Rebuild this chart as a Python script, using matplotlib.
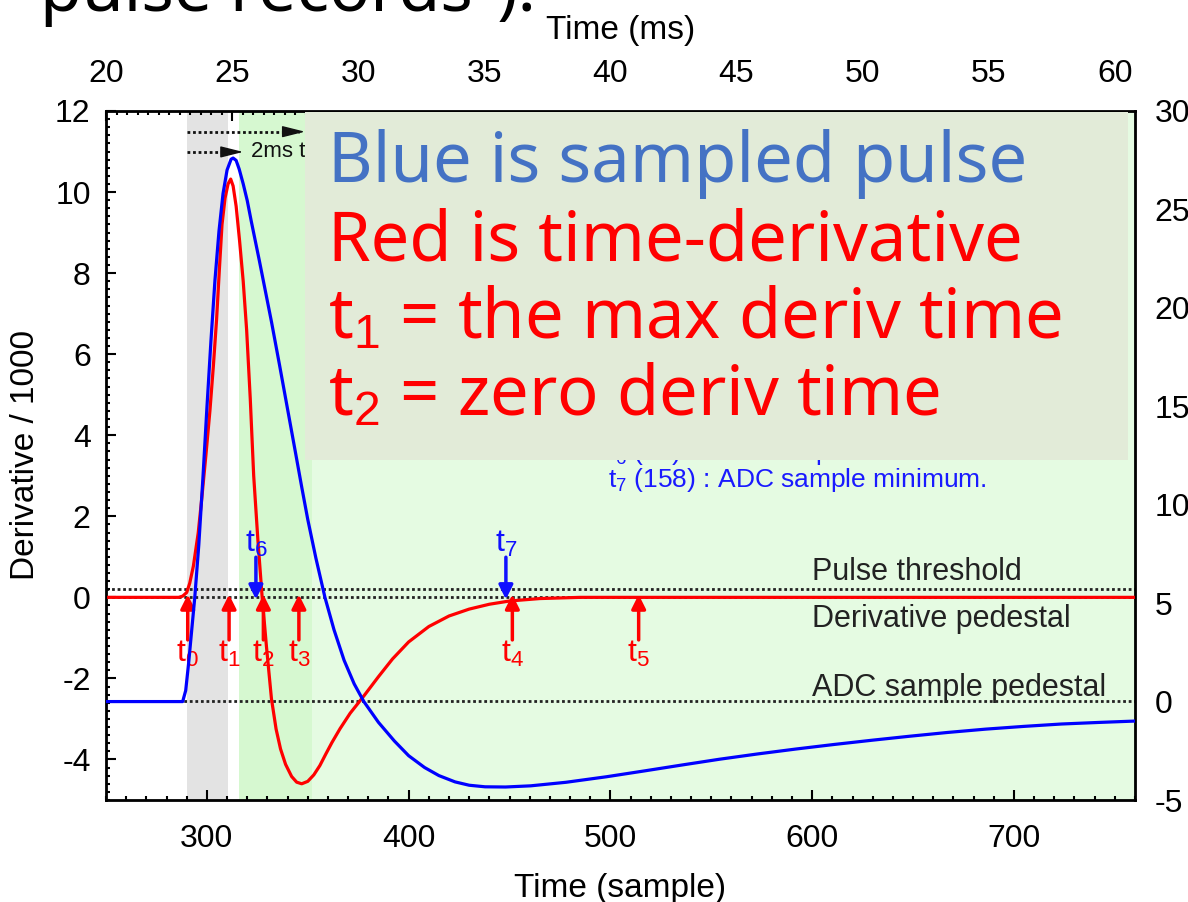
import matplotlib
matplotlib.use('Agg')
import matplotlib.pyplot as plt
from matplotlib.patches import Rectangle
from matplotlib.ticker import MultipleLocator, AutoMinorLocator

plt.rcParams['font.family'] = ['Liberation Sans', 'DejaVu Sans']
plt.rcParams['mathtext.fontset'] = 'custom'
plt.rcParams['mathtext.rm'] = 'Liberation Sans'
plt.rcParams['mathtext.it'] = 'Liberation Sans:italic'
plt.rcParams['axes.unicode_minus'] = False

# 微分波形 (Derivative / 1000), 横軸はサンプル番号
deriv_sample = [250, 286, 288, 290, 291.5, 293.3, 295.7, 297.4, 299.5, 301.5, 303.2, 304.8,
                306.2, 307.5, 309, 310.5, 311.8, 313, 314.5, 316.2, 318, 319.7, 321.5, 323.2,
                325.3, 327.4, 329.5, 332, 334.3, 336.5, 339, 342, 344.5, 347, 350, 353,
                356, 359, 362, 366, 371, 378, 385, 392, 400, 410, 420, 430, 440, 450, 465,
                485, 600, 760]
deriv = [0, 0, 0.03, 0.12, 0.35, 0.77, 1.59, 2.41, 3.5, 4.6, 5.7, 6.85,
         8.1, 9.2, 9.85, 10.2, 10.32, 10.15, 9.65, 8.8, 7.8, 6.6, 4.9, 3.0,
         1.4, 0, -1.2, -2.5, -3.25, -3.74, -4.12, -4.42, -4.56, -4.6, -4.54, -4.38,
         -4.15, -3.86, -3.58, -3.24, -2.86, -2.42, -1.96, -1.52, -1.1, -0.72, -0.46, -0.29, -0.17, -0.09, -0.03,
         0, 0, 0]

# サンプリングされたパルス (右軸)
pulse_sample = [250, 288, 289.5, 291, 292.5, 294, 296, 298, 300, 302, 304, 306, 308, 310, 312,
                313, 314.5, 316, 318, 320, 322, 326, 329, 332, 336, 340, 344, 347, 350, 354,
                358.5, 363, 368, 373, 377.8, 385, 392.9, 400, 407.9, 415, 423, 430, 437.9, 448, 460.5,
                478, 498, 517, 535.6, 554, 573, 592, 610.8, 630, 648.4, 667, 686, 705, 723.5,
                742, 760]
pulse = [0, 0, 0.56, 2.0, 3.65, 5.29, 7.97, 11.3, 14.9, 18.3, 21.4, 23.9, 25.8, 27.0, 27.55,
         27.61, 27.49, 27.05, 26.3, 25.45, 24.4, 22.4, 20.85, 19.3, 17.1, 14.85, 12.6, 10.9, 9.25, 7.3,
         5.3, 3.65, 2.1, 0.9, 0.0, -1.05, -2.0, -2.75, -3.35, -3.76, -4.08, -4.25, -4.33, -4.34, -4.28,
         -4.1, -3.82, -3.52, -3.22, -2.93, -2.66, -2.41, -2.18, -1.96, -1.76, -1.57, -1.40, -1.26, -1.14,
         -1.06, -0.99]

# 時刻マーカー
red_marks = [290.5, 311, 328, 345.6, 451.4, 514]
red_names = ['t$_0$', 't$_1$', 't$_2$', 't$_3$', 't$_4$', 't$_5$']
blue_marks = [324.3, 448.2]
blue_names = ['t$_6$', 't$_7$']

# 水平基準線
threshold = 0.2
deriv_pedestal = 0.0
adc_pedestal = -2.56

fig = plt.figure(figsize=(11.88, 9.02), dpi=100)
ax = fig.add_axes([106 / 1188, 102 / 902, 1029 / 1188, 689 / 902])
ax.set_xlim(250, 760)
ax.set_ylim(-5, 12)

# 背景の帯
ax.axvspan(290, 310.5, color='#e3e3e3', lw=0, zorder=0)
ax.axvspan(316, 352, color='#d6f8d0', lw=0, zorder=0)
ax.axvspan(352, 760, color='#e5fbe2', lw=0, zorder=0)

for yv in [threshold, deriv_pedestal, adc_pedestal]:
    ax.axhline(yv, color='#222222', ls=(0, (1, 1)), lw=2, zorder=1)

ax.plot(deriv_sample, deriv, color='#ff0000', lw=2.3, zorder=3)

# 矢印とラベル
for s, name in zip(red_marks, red_names):
    ax.annotate('', xy=(s, 0.07), xytext=(s, -1.05),
                arrowprops=dict(arrowstyle='-|>,head_length=0.6,head_width=0.3', color='#ff0000',
                                lw=2.5, shrinkA=0, shrinkB=0, mutation_scale=14), zorder=4)
    ax.text(s, -1.6, name, color='#ff0000', fontsize=23, ha='center', va='baseline', zorder=4)
for s, name in zip(blue_marks, blue_names):
    ax.annotate('', xy=(s, -0.05), xytext=(s, 0.99),
                arrowprops=dict(arrowstyle='-|>,head_length=0.6,head_width=0.3', color='#1010ff',
                                lw=2.5, shrinkA=0, shrinkB=0, mutation_scale=14), zorder=4)
    ax.text(s, 1.11, name, color='#1010ff', fontsize=23, ha='center', va='baseline', zorder=4)

ax.text(600, 0.44, 'Pulse threshold', fontsize=22, color='#222222', va='baseline')
ax.text(600, -0.74, 'Derivative pedestal', fontsize=22, color='#222222', va='baseline')
ax.text(600, -2.44, 'ADC sample pedestal', fontsize=22, color='#222222', va='baseline')
ax.text(499, 3.4, 't$_6$ (81) : ADC sample maximum.', fontsize=19, color='#1a1aff', va='baseline')
ax.text(499, 2.73, 't$_7$ (158) : ADC sample minimum.', fontsize=19, color='#1a1aff', va='baseline')

# 上部の点線矢印 (点線 + 実線の矢じり)
for x_end, yv in [(348.6, 11.49), (318, 10.99)]:
    ax.plot([290, x_end - 3], [yv, yv], color='#111111', lw=2, ls=(0, (1, 1)))
    ax.annotate('', xy=(x_end, yv), xytext=(x_end - 4, yv),
                arrowprops=dict(arrowstyle='-|>,head_length=1.0,head_width=0.25', color='#111111',
                                lw=1, shrinkA=0, shrinkB=0, mutation_scale=14))
ax.text(322, 10.99, '2ms time window', fontsize=16, va='center', color='#111111')

# 軸の体裁
ax.set_xlabel('Time (sample)', fontsize=24, labelpad=14)
ax.set_ylabel('Derivative / 1000', fontsize=24, labelpad=10)
ax.xaxis.set_major_locator(MultipleLocator(100))
ax.xaxis.set_minor_locator(MultipleLocator(10))
ax.yaxis.set_major_locator(MultipleLocator(2))
ax.yaxis.set_minor_locator(AutoMinorLocator(10))
ax.tick_params(which='both', direction='in', labelsize=23, width=1.5, top=False, right=False)
ax.tick_params(which='major', length=7)
ax.tick_params(which='minor', length=3)
ax.tick_params(axis='x', pad=17)
ax.tick_params(axis='y', pad=11)
for sp in ax.spines.values():
    sp.set_linewidth(2)

ax2 = ax.twinx()
ax2.set_ylim(-5, 30)
ax2.plot(pulse_sample, pulse, color='#0000ff', lw=2.3, zorder=3)
ax2.yaxis.set_major_locator(MultipleLocator(5))
ax2.tick_params(axis='y', length=0, labelsize=23, pad=14)

top = ax.secondary_xaxis('top', functions=(lambda s: s * 0.08, lambda m: m / 0.08))
top.xaxis.set_major_locator(MultipleLocator(5))
top.xaxis.set_minor_locator(AutoMinorLocator(12))
top.tick_params(which='both', direction='in', labelsize=23, width=1.5, pad=16)
top.tick_params(which='major', length=7)
top.tick_params(which='minor', length=3)
top.set_xlabel('Time (ms)', fontsize=24, labelpad=14)

# スライドの重ね書き
box = Rectangle((305 / 1188, (902 - 460) / 902), (1128 - 305) / 1188, (460 - 112) / 902,
                transform=fig.transFigure, facecolor='#e2ebd8', edgecolor='none', zorder=10)
fig.add_artist(box)
box_font = ['Noto Sans', 'DejaVu Sans']
fig.text(328 / 1188, 1 - 182 / 902, 'Blue is sampled pulse', color='#4472c4', fontsize=49.5,
         family=box_font, va='baseline', zorder=11)
fig.text(328 / 1188, 1 - 260 / 902, 'Red is time-derivative', color='#ff0000', fontsize=49.5,
         family=box_font, va='baseline', zorder=11)
fig.text(328 / 1188, 1 - 338 / 902, 't$_1$ = the max deriv time', color='#ff0000', fontsize=49.5,
         family=box_font, va='baseline', zorder=11)
fig.text(328 / 1188, 1 - 415 / 902, 't$_2$ = zero deriv time', color='#ff0000', fontsize=49.5,
         family=box_font, va='baseline', zorder=11)
fig.text(40 / 1188, 1 - 11 / 902, 'pulse records\u201d).', color='black', fontsize=49,
         family=box_font, va='baseline')

fig.savefig('out.png', dpi=100)
